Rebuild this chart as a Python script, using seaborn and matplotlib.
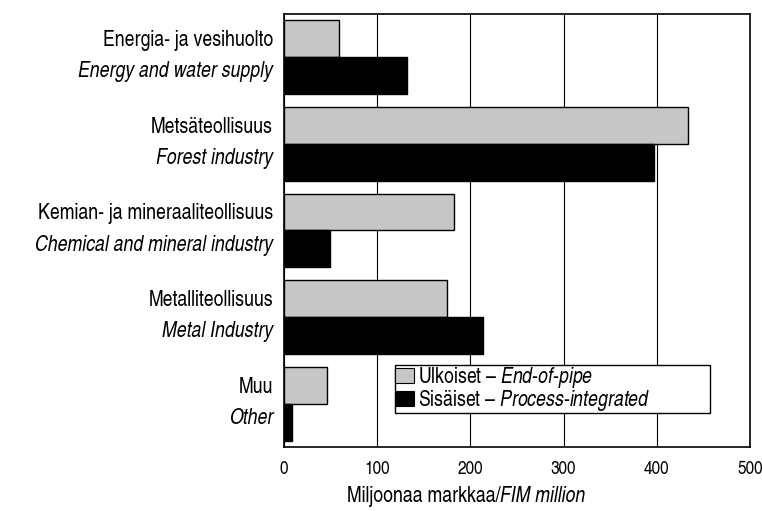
import pandas as pd
import matplotlib
matplotlib.use("Agg")
import matplotlib.pyplot as plt
import matplotlib.transforms as mtransforms
from matplotlib import font_manager
from matplotlib.patches import Patch
import seaborn as sns

# data (million FIM)
sectors_fi = ["Energia- ja vesihuolto", "Metsäteollisuus", "Kemian- ja mineraaliteollisuus",
              "Metalliteollisuus", "Muu"]
sectors_en = ["Energy and water supply", "Forest industry", "Chemical and mineral industry",
              "Metal Industry", "Other"]
end_of_pipe = [59, 434, 182, 175, 46]
process_integrated = [132, 397, 49, 213, 8]
xticks = [0, 100, 200, 300, 400, 500]

sns.set_theme(style="white")
# a condensed sans if there is one, else Liberation Sans
fam = "Liberation Sans"
for f in font_manager.fontManager.ttflist:
    if "heroscn" in f.fname.lower() or "sansnarrow" in f.fname.lower():
        fam = f.name
        break
plt.rcParams["font.family"] = [fam, "DejaVu Sans"]
plt.rcParams["text.color"] = "black"
plt.rcParams["xtick.color"] = "black"
plt.rcParams["mathtext.fontset"] = "custom"
plt.rcParams["mathtext.rm"] = fam
plt.rcParams["mathtext.it"] = fam + ":italic"
fs = 15.5 if fam != "Liberation Sans" else 12.5
fs_tick = 13.5 if fam != "Liberation Sans" else 12

df = pd.DataFrame({
    "sector": sectors_fi * 2,
    "value": end_of_pipe + process_integrated,
    "type": ["ulk"] * 5 + ["sis"] * 5,
})

fig = plt.figure(figsize=(7.62, 5.11), dpi=100)
ax = fig.add_axes([0.373, 0.125, 0.611, 0.848])
sns.barplot(data=df, y="sector", x="value", hue="type", orient="h", ax=ax,
            palette={"ulk": "#c6c6c6", "sis": "#000000"}, width=0.85,
            edgecolor="black", linewidth=1.0, legend=False, zorder=3)

ax.set_xlim(0, 500)
ax.set_ylim(4.5, -0.5)
ax.set_xticks(xticks)
ax.set_xticklabels([str(t) for t in xticks], fontsize=fs_tick, color="black")
ax.tick_params(axis="both", length=0, pad=10)
ax.set_yticks([])
ax.set_ylabel("")
ax.set_xlabel("")
ax.grid(axis="x", color="black", linewidth=0.8, zorder=0)
for s in ax.spines.values():
    s.set_color("black")
    s.set_linewidth(1.2)

# two-line category labels: Finnish upright, English italic
tr = mtransforms.blended_transform_factory(ax.transAxes, ax.transData)
for i, (fi, en) in enumerate(zip(sectors_fi, sectors_en)):
    ax.text(-0.024, i - 0.19, fi, transform=tr, ha="right", va="center", fontsize=fs)
    ax.text(-0.024, i + 0.17, en, transform=tr, ha="right", va="center", fontsize=fs,
            style="italic")

# x label with italic English part
ax.text(0.464, -0.115, "Miljoonaa markkaa/", transform=ax.transAxes, ha="right",
        va="center", fontsize=fs)
ax.text(0.464, -0.115, "FIM million", transform=ax.transAxes, ha="left",
        va="center", fontsize=fs, style="italic")

handles = [Patch(facecolor="#c6c6c6", edgecolor="black", linewidth=0.8),
           Patch(facecolor="black", edgecolor="black", linewidth=0.8)]
labels = [r"Ulkoiset – $\mathit{End\text{-}of\text{-}pipe}$",
          r"Sisäiset – $\mathit{Process\text{-}integrated}$"]
leg = ax.legend(handles, labels, loc="lower left", mode="expand",
                bbox_to_anchor=(0.238, 0.079, 0.676, 0.1),
                borderaxespad=0, fontsize=fs, frameon=True, fancybox=False,
                edgecolor="black", framealpha=1, handlelength=0.9, handleheight=0.7,
                handletextpad=0.15, borderpad=0.0, labelspacing=-0.08)
leg.get_frame().set_linewidth(1.0)
leg.set_zorder(5)

fig.savefig("out.png", dpi=100)
